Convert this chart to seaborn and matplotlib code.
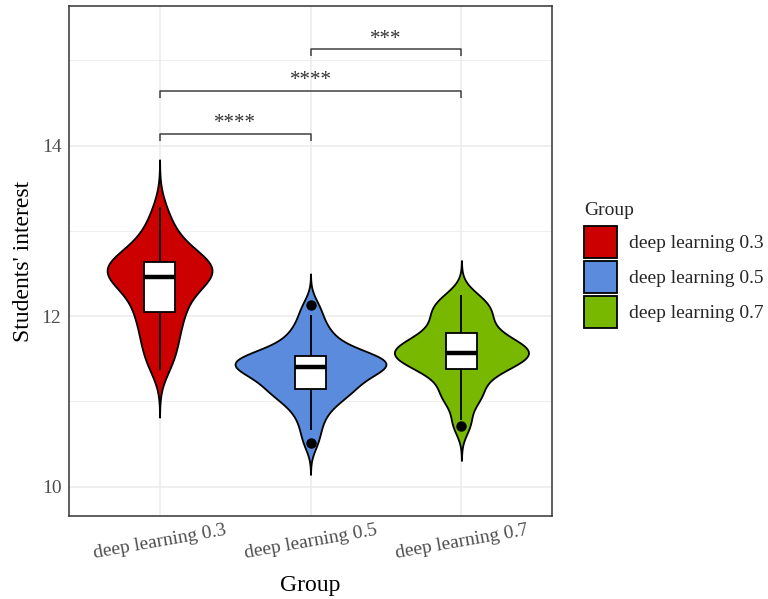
import numpy as np
import pandas as pd
import seaborn as sns
import matplotlib
matplotlib.use("Agg")
import matplotlib.pyplot as plt
from matplotlib.patches import Patch
from matplotlib.ticker import FixedLocator

# ---------------- data ----------------
groups = ["deep learning 0.3", "deep learning 0.5", "deep learning 0.7"]
colors = ["#CD0000", "#5A8BDC", "#78B800"]

dl03 = [11.37, 11.45, 11.55, 11.63, 11.70, 11.77, 11.84, 11.91, 11.97, 12.04,
        12.06, 12.12, 12.18, 12.23, 12.28, 12.32, 12.36, 12.39, 12.42, 12.45,
        12.47, 12.49, 12.51, 12.53, 12.55, 12.56, 12.58, 12.60, 12.61, 12.62,
        12.66, 12.69, 12.72, 12.76, 12.81, 12.87, 12.94, 13.02, 13.12, 13.28]
dl05 = [10.51, 10.66, 10.78, 10.88, 10.95, 11.00, 11.05, 11.09, 11.12, 11.15,
        11.15, 11.19, 11.23, 11.26, 11.29, 11.32, 11.34, 11.36, 11.38, 11.39,
        11.41, 11.42, 11.44, 11.45, 11.47, 11.48, 11.49, 11.50, 11.52, 11.53,
        11.53, 11.57, 11.61, 11.66, 11.71, 11.76, 11.82, 11.90, 12.01, 12.13]
dl07 = [10.71, 10.78, 11.00, 11.04, 11.08, 11.12, 11.22, 11.30, 11.34, 11.37,
        11.39, 11.42, 11.45, 11.48, 11.50, 11.52, 11.54, 11.55, 11.56, 11.56,
        11.58, 11.60, 11.62, 11.64, 11.66, 11.68, 11.70, 11.73, 11.76, 11.79,
        11.84, 11.89, 11.94, 11.99, 12.03, 12.07, 12.11, 12.15, 12.20, 12.25]

comparisons = [(0, 1), (0, 2), (1, 2)]
bracket_y = [14.14, 14.64, 15.13]
sig_labels = ["****", "****", "***"]

y_ticks = [10, 12, 14]
y_minor = [11, 13, 15]

df = pd.DataFrame({
    "Group": np.repeat(groups, [len(dl03), len(dl05), len(dl07)]),
    "interest": dl03 + dl05 + dl07,
})


def nrd0(kde):
    x = np.asarray(kde.dataset).ravel()
    sd = x.std(ddof=1)
    q75, q25 = np.percentile(x, [75, 25])
    h = 0.9 * min(sd, (q75 - q25) / 1.34) * len(x) ** -0.2
    return h / sd


# ---------------- figure ----------------
sns.set_theme(style="white")
plt.rcParams["font.family"] = ["Liberation Serif", "DejaVu Serif"]

fig = plt.figure(figsize=(7.68, 5.99), dpi=100)
ax = fig.add_axes([69 / 768, 83 / 599, (552 - 69) / 768, 510 / 599])

sns.violinplot(data=df, x="Group", y="interest", hue="Group", order=groups,
               hue_order=groups, palette=colors, inner=None, cut=3, width=1.0,
               density_norm="area", common_norm=True, bw_method=nrd0,
               linewidth=1.3, linecolor="black", saturation=1, legend=False,
               ax=ax)

sns.boxplot(data=df, x="Group", y="interest", order=groups, width=0.2,
            color="white", saturation=1, showcaps=False, linewidth=1.3,
            linecolor="black", fliersize=6.5,
            boxprops=dict(facecolor="white", edgecolor="black"),
            medianprops=dict(color="black", linewidth=3.2),
            whiskerprops=dict(color="black"),
            flierprops=dict(marker="o", markerfacecolor="black",
                            markeredgecolor="black"),
            ax=ax)

# significance brackets
for (i, j), yb, lab in zip(comparisons, bracket_y, sig_labels):
    ax.plot([i, i, j, j], [yb - 0.08, yb, yb, yb - 0.08], color="#404040",
            lw=1.1, solid_capstyle="butt", zorder=5)
    ax.text((i + j) / 2, yb + 0.01, lab, ha="center", va="bottom",
            fontsize=15, color="#333333")

ax.set_xlim(-0.6, 2.6)
ax.set_ylim(9.656, 15.639)
ax.set_yticks(y_ticks)
ax.set_yticklabels([str(t) for t in y_ticks])
ax.yaxis.set_minor_locator(FixedLocator(y_minor))

ax.set_axisbelow(True)
ax.grid(which="major", color="#EBEBEB", lw=1.1)
ax.grid(which="minor", axis="y", color="#EBEBEB", lw=0.6)

for s in ax.spines.values():
    s.set_color("#333333")
    s.set_linewidth(1.1)

ax.tick_params(axis="both", which="major", length=4, width=1, color="#333333",
               labelsize=14, labelcolor="#4D4D4D", pad=1.5)
ax.tick_params(axis="x", which="major", pad=0.5)
ax.tick_params(axis="both", which="minor", length=0)
for lab in ax.get_xticklabels():
    lab.set_rotation(10)
    lab.set_ha("center")

ax.set_xlabel("Group", fontsize=17, color="black", labelpad=9)
ax.set_ylabel("Students' interest", fontsize=17, color="black")
ax.yaxis.set_label_coords(-0.073, 0.5)

handles = [Patch(facecolor=c, edgecolor="black", lw=1.3) for c in colors]
leg = fig.legend(handles=handles, labels=groups, title="Group",
                 loc="upper left", bbox_to_anchor=(584 / 768, 1 - 202 / 599),
                 frameon=False, fontsize=14, title_fontsize=14,
                 handlelength=1.7, handleheight=2.16, labelspacing=0.15,
                 handletextpad=0.6, borderpad=0, borderaxespad=0,
                 alignment="left")
leg._legend_box.sep = 5

fig.savefig("out.png", dpi=100)
